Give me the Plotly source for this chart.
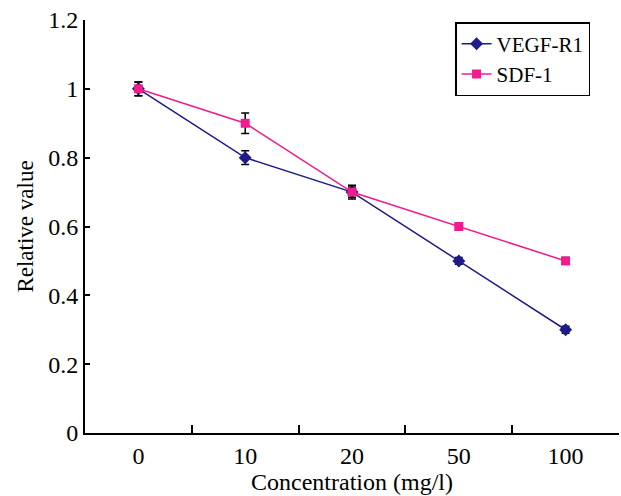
import plotly.graph_objects as go

# Concentrations tested and relative expression values
concentrations = ["0", "10", "20", "50", "100"]
vegf_r1 = [1.0, 0.8, 0.7, 0.5, 0.3]
vegf_r1_err = [0.02, 0.02, 0.02, 0.01, 0.01]
sdf_1 = [1.0, 0.9, 0.7, 0.6, 0.5]
sdf_1_err = [0.02, 0.03, 0.015, 0.01, 0.01]

y_ticks = [0, 0.2, 0.4, 0.6, 0.8, 1.0, 1.2]
y_tick_text = ["0", "0.2", "0.4", "0.6", "0.8", "1", "1.2"]

FONT = "Liberation Serif"
NAVY = "#1E1A8A"
PINK = "#F01B8C"

fig = go.Figure()
fig.add_trace(go.Scatter(
    x=concentrations, y=vegf_r1, name="VEGF-R1", mode="lines+markers",
    line=dict(color=NAVY, width=1.5),
    marker=dict(symbol="diamond", size=10, color=NAVY),
    error_y=dict(type="data", array=vegf_r1_err, visible=True,
                 color="black", thickness=1.5, width=4),
))
fig.add_trace(go.Scatter(
    x=concentrations, y=sdf_1, name="SDF-1", mode="lines+markers",
    line=dict(color=PINK, width=1.5),
    marker=dict(symbol="square", size=9, color=PINK),
    error_y=dict(type="data", array=sdf_1_err, visible=True,
                 color="black", thickness=1.5, width=4),
))

fig.update_layout(
    width=621, height=496,
    margin=dict(l=85, r=2, t=20, b=63),
    paper_bgcolor="white", plot_bgcolor="white",
    font=dict(family=FONT, size=24, color="black"),
    showlegend=True,
    legend=dict(
        x=0.693, y=0.995, xanchor="left", yanchor="top",
        bordercolor="black", borderwidth=1.5, bgcolor="white",
        font=dict(family=FONT, size=21),
        tracegroupgap=2, itemwidth=30,
    ),
    xaxis=dict(
        type="category", range=[-0.5, 4.5],
        tickson="boundaries", ticks="inside", ticklen=8, tickwidth=2,
        tickcolor="black", showline=True, linecolor="black", linewidth=2,
        showgrid=False, zeroline=False,
        tickfont=dict(family=FONT, size=24),
        title=dict(text="Concentration (mg/l)", font=dict(family=FONT, size=24), standoff=2),
    ),
    yaxis=dict(
        range=[0, 1.2], tickvals=y_ticks, ticktext=y_tick_text,
        ticks="inside", ticklen=5, tickwidth=2, tickcolor="black",
        showline=True, linecolor="black", linewidth=2,
        showgrid=False, zeroline=False,
        tickfont=dict(family=FONT, size=24),
        title=dict(text="Relative value", font=dict(family=FONT, size=23), standoff=8),
    ),
)

fig.write_html("out.html")
